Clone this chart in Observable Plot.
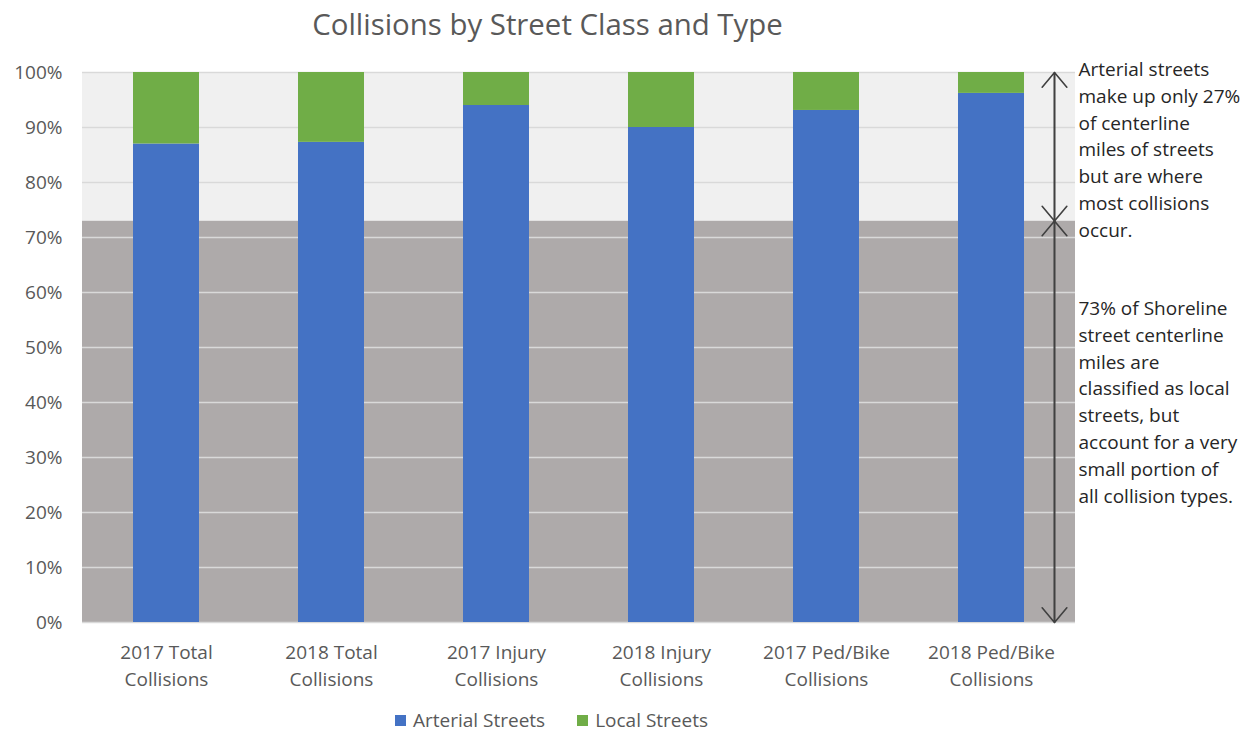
<!DOCTYPE html>
<html>
<head>
<meta charset="utf-8">
<script src="https://cdn.jsdelivr.net/npm/d3@7"></script>
<script src="https://cdn.jsdelivr.net/npm/@observablehq/plot@0.6"></script>
<style>
  body { margin: 0; background: #fff; font-family: "Open Sans", sans-serif; color: #595959; }
  #wrap { position: relative; width: 1253px; height: 735px; overflow: hidden; background: #fff; }
  #title { position: absolute; left: 0; width: 1095px; top: 4px; text-align: center; font-size: 29.4px; line-height: 40px; color: #595959; }
  #chart { position: absolute; left: 0; top: 50px; }
  #legend { position: absolute; left: 0; width: 1103px; top: 710px; height: 20px; display: flex; justify-content: center; align-items: center; font-size: 19px; line-height: 20px; color: #595959; }
  .item { display: flex; align-items: center; margin: 0 16px; height: 20px; }
  .item span { display: inline-block; line-height: 20px; height: 20px; }
  .sw { width: 11px; height: 11px; margin-right: 7px; }
</style>
</head>
<body>
<div id="wrap">
  <div id="title">Collisions by Street Class and Type</div>
  <div id="chart"></div>
  <div id="legend"></div>
</div>
<script>
// ---- data ----
const categories = [
  "2017 Total Collisions",
  "2018 Total Collisions",
  "2017 Injury Collisions",
  "2018 Injury Collisions",
  "2017 Ped/Bike Collisions",
  "2018 Ped/Bike Collisions"
];
const tickLabels = [
  "2017 Total\nCollisions",
  "2018 Total\nCollisions",
  "2017 Injury\nCollisions",
  "2018 Injury\nCollisions",
  "2017 Ped/Bike\nCollisions",
  "2018 Ped/Bike\nCollisions"
];
const seriesNames = ["Arterial Streets", "Local Streets"];
const arterial = [87.0, 87.3, 94.0, 90.0, 93.1, 96.2];
const local = [13.0, 12.7, 6.0, 10.0, 6.9, 3.8];
const yTicks = [0, 10, 20, 30, 40, 50, 60, 70, 80, 90, 100];
const zoneBreaks = [0, 73, 100]; // local-street share of centerline miles
const notes = [
  "Arterial streets\nmake up only 27%\nof centerline\nmiles of streets\nbut are where\nmost collisions\noccur.",
  "73% of Shoreline\nstreet centerline\nmiles are\nclassified as local\nstreets, but\naccount for a very\nsmall portion of\nall collision types."
];

// ---- styles ----
const seriesColors = ["#4472C4", "#70AD47"];
const textColor = "#595959";

const rows = categories.flatMap((c, i) => [
  {cat: c, series: seriesNames[0], value: arterial[i]},
  {cat: c, series: seriesNames[1], value: local[i]}
]);
const lastCat = categories[categories.length - 1];
const arrows = [
  {from: zoneBreaks[1], to: zoneBreaks[2]},
  {from: zoneBreaks[2], to: zoneBreaks[1]},
  {from: zoneBreaks[1], to: zoneBreaks[0]},
  {from: zoneBreaks[0], to: zoneBreaks[1]}
];

const chart = Plot.plot({
  width: 1253,
  height: 665,
  marginLeft: 82,
  marginRight: 178,
  marginTop: 22,
  marginBottom: 93,
  style: {fontFamily: "'Open Sans', sans-serif", fontSize: "19px", color: textColor, background: "transparent", overflow: "visible"},
  x: {domain: categories, paddingInner: 0.6, paddingOuter: 0.3, axis: null},
  y: {domain: [0, 100], axis: null},
  color: {domain: seriesNames, range: seriesColors},
  marks: [
    Plot.rectY([0], {y1: zoneBreaks[0], y2: zoneBreaks[1], fill: "#AEAAAA"}),
    Plot.rectY([0], {y1: zoneBreaks[1], y2: zoneBreaks[2], fill: "#F0F0F0"}),
    Plot.gridY(yTicks, {stroke: "#D9D9D9", strokeOpacity: 1, strokeWidth: 1.4}),
    Plot.barY(rows, {x: "cat", y: "value", fill: "series", order: seriesNames}),
    Plot.axisY(yTicks, {tickSize: 0, tickPadding: 20, tickFormat: d => d + "%", label: null, fontSize: 19, fill: textColor}),
    Plot.axisX({tickSize: 0, tickPadding: 18, tickFormat: d => tickLabels[categories.indexOf(d)], label: null, fontSize: 19, lineHeight: 1.39, fill: textColor}),
    Plot.arrow(arrows, {x1: () => lastCat, x2: () => lastCat, y1: "from", y2: "to", dx: 63, bend: 0, headAngle: 80, headLength: 18, stroke: "#404040", strokeWidth: 1.6, insetStart: 0, insetEnd: 0}),
    Plot.text([notes[0]], {x: () => lastCat, y: zoneBreaks[2], text: d => d, dx: 87, dy: -15.5, lineAnchor: "top", textAnchor: "start", lineHeight: 1.41, fontSize: 19, fill: "#262626"}),
    Plot.text([notes[1]], {x: () => lastCat, y: zoneBreaks[1], text: d => d, dx: 87, dy: 75, lineAnchor: "top", textAnchor: "start", lineHeight: 1.41, fontSize: 19, fill: "#262626"})
  ]
});
document.getElementById("chart").appendChild(chart);

const legend = document.getElementById("legend");
seriesNames.forEach((name, i) => {
  const item = document.createElement("div");
  item.className = "item";
  const sw = document.createElement("div");
  sw.className = "sw";
  sw.style.background = seriesColors[i];
  const label = document.createElement("span");
  label.textContent = name;
  item.appendChild(sw);
  item.appendChild(label);
  legend.appendChild(item);
});
</script>
</body>
</html>
